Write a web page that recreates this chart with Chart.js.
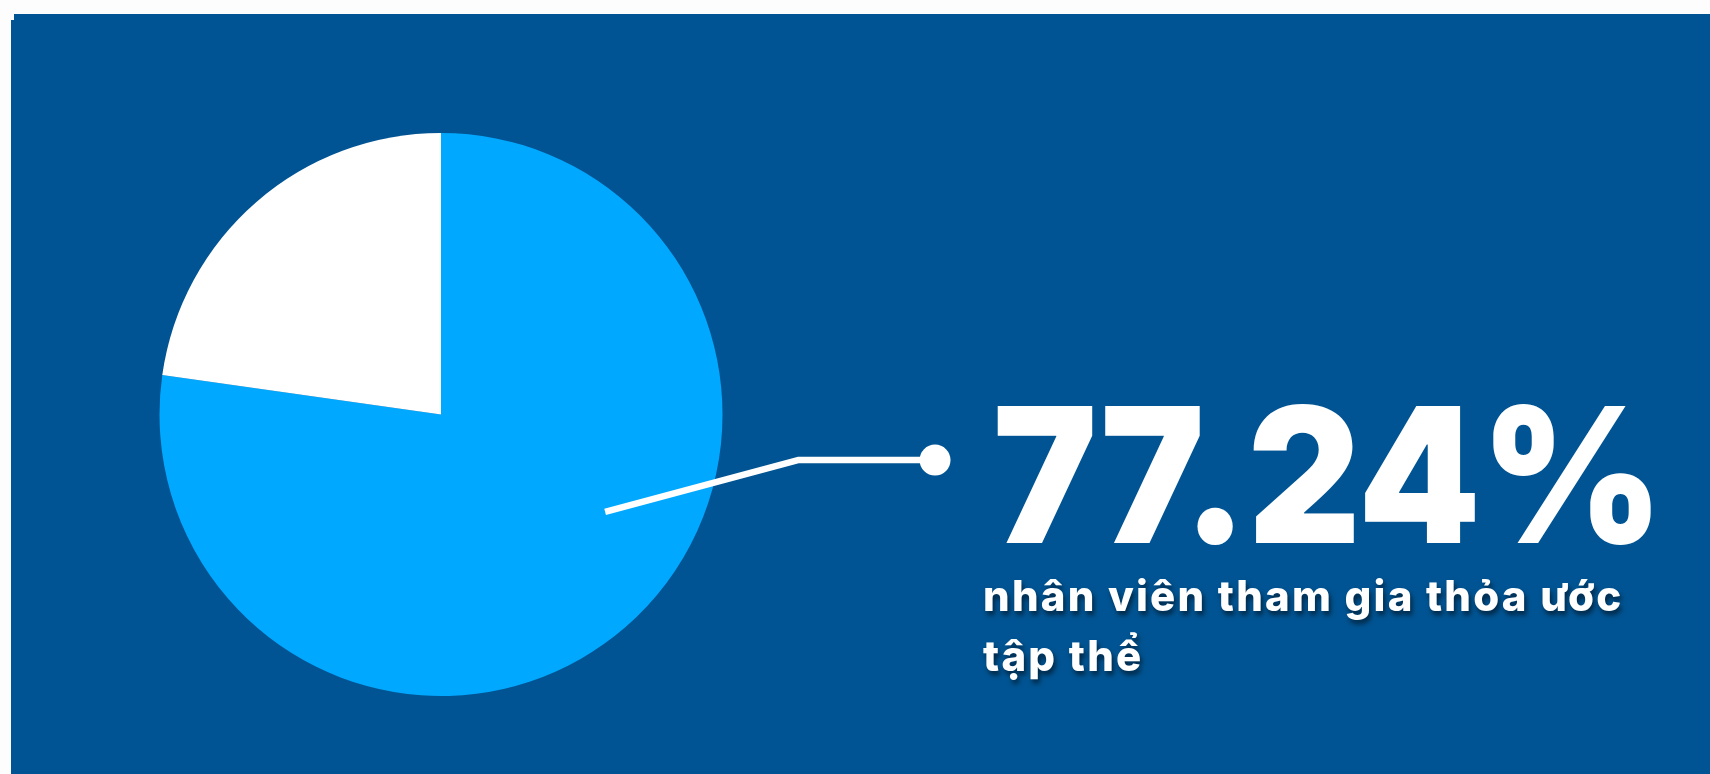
<!DOCTYPE html>
<html>
<head>
<meta charset="utf-8">
<script src="https://cdn.jsdelivr.net/npm/chart.js@4"></script>
<style>
  html, body { margin: 0; padding: 0; background: #fdfdfd; width: 1710px; height: 774px; overflow: hidden; }
  .panel { position: absolute; left: 14px; top: 14px; right: 0; bottom: 0; background: #005493; }
  .panel-edge { position: absolute; left: 11px; top: 20px; width: 4px; bottom: 0; background: #005493; }
  #chart { position: absolute; left: 0; top: 0; }
  .big {
    position: absolute; left: 993px; top: 375px;
    font-family: Inter, sans-serif; font-weight: 900; font-size: 188px; line-height: 200px;
    color: #fff; white-space: nowrap; transform-origin: 0 0; transform: scaleX(0.93);
  }
  .sub {
    position: absolute; left: 983px; top: 566px;
    font-family: Inter, sans-serif; font-weight: 800; font-size: 42px; line-height: 60px;
    letter-spacing: 2.2px;
    color: #fff; white-space: nowrap;
    text-shadow: 2px 4px 5px rgba(0, 0, 0, 0.55);
  }
</style>
</head>
<body>
<div class="panel"></div>
<div class="panel-edge"></div>
<canvas id="chart" width="1710" height="774"></canvas>
<div class="big" id="big">77.24%</div>
<div class="sub">nhân viên tham gia thỏa ước<br>tập thể</div>
<script>
const labels = ['Tham gia thỏa ước tập thể', 'Không tham gia'];
const values = [77.24, 22.76];
const colors = ['#00A9FF', '#FFFFFF'];

// leader line from the blue slice to the label
const leader = {
  id: 'leader',
  afterDatasetsDraw(chart) {
    const arc = chart.getDatasetMeta(0).data[0];
    const r = arc.outerRadius;
    const cx = arc.x, cy = arc.y;
    const a = 30.7 * Math.PI / 180;
    const x0 = cx + Math.cos(a) * r * 0.678;
    const y0 = cy + Math.sin(a) * r * 0.678;
    const x1 = cx + r * 1.268;
    const y1 = cy + r * 0.162;
    const x2 = cx + r * 1.755;
    const ctx = chart.ctx;
    ctx.save();
    ctx.strokeStyle = '#fff';
    ctx.fillStyle = '#fff';
    ctx.lineWidth = 6.5;
    ctx.lineJoin = 'round';
    ctx.beginPath();
    ctx.moveTo(x0, y0);
    ctx.lineTo(x1, y1);
    ctx.lineTo(x2, y1);
    ctx.stroke();
    ctx.beginPath();
    ctx.arc(x2, y1, 15.5, 0, Math.PI * 2);
    ctx.fill();
    ctx.restore();
  }
};

new Chart(document.getElementById('chart'), {
  type: 'pie',
  data: {
    labels: labels,
    datasets: [{
      data: values,
      backgroundColor: colors,
      borderWidth: 0
    }]
  },
  options: {
    responsive: false,
    animation: false,
    layout: { padding: { left: 159.5, top: 133, right: 987.5, bottom: 78 } },
    plugins: { legend: { display: false }, tooltip: { enabled: false } }
  },
  plugins: [leader]
});
</script>
</body>
</html>
